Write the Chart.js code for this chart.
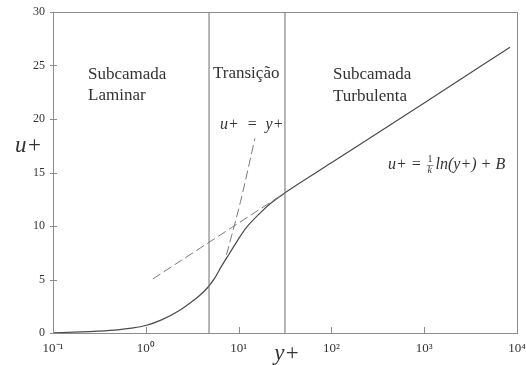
<!DOCTYPE html>
<html>
<head>
<meta charset="utf-8">
<script src="https://cdn.jsdelivr.net/npm/chart.js@4"></script>
<style>
  body { margin: 0; background: #fff; }
</style>
</head>
<body>
<canvas id="c" width="526" height="365"></canvas>
<script>
// axis ticks
const xTicks = [0.1, 1, 10, 100, 1000, 10000];
const xTickLabels = ['10⁻¹', '10⁰', '10¹', '10²', '10³', '10⁴'];
const yTicks = [0, 5, 10, 15, 20, 25, 30];

// velocity profile (solid)
const profileY = [0.1, 0.2, 0.3, 0.5, 0.7, 1, 1.5, 2.3, 3, 3.8, 4.7, 5.5, 6.5, 8, 10, 12, 17, 22, 31.6, 100, 1000, 8400];
const profileU = [0.02, 0.1, 0.17, 0.3, 0.45, 0.7, 1.25, 2.1, 2.8, 3.5, 4.3, 5.1, 6.2, 7.45, 8.8, 9.8, 11.2, 12.1, 13.1, 15.9, 21.5, 26.7];

// u+ = y+ (dashed)
const linearY = [7.4, 10.5, 15];
const linearU = [7.3, 12.3, 18.2];

// log law (dashed)
const logY = [1.19, 31.6];
const logU = [5.05, 13.1];

// region boundaries
const boundaryY = [4.8, 31.6];

const pts = (xs, ys) => xs.map((x, i) => ({ x: x, y: ys[i] }));
const serif = '"Liberation Serif", "Times New Roman", serif';

const vlines = boundaryY.map(b => ({
  data: [{ x: b, y: 0 }, { x: b, y: 30 }],
  borderColor: '#6e6e6e',
  borderWidth: 1,
  pointRadius: 0,
}));

const extras = {
  id: 'extras',
  afterDraw(chart) {
    const { ctx, chartArea: a, scales: { x, y } } = chart;
    ctx.save();
    ctx.strokeStyle = '#8c8c8c';
    ctx.lineWidth = 1;
    ctx.strokeRect(Math.round(a.left) + 0.5, Math.round(a.top) + 0.5,
      Math.round(a.right - a.left), Math.round(a.bottom - a.top));

    // ticks
    ctx.beginPath();
    yTicks.forEach(v => {
      const py = Math.round(y.getPixelForValue(v)) + 0.5;
      ctx.moveTo(a.left - 3, py);
      ctx.lineTo(a.left + 4, py);
    });
    xTicks.slice(1, -1).forEach(v => {
      const px = Math.round(x.getPixelForValue(v)) + 0.5;
      ctx.moveTo(px, a.bottom);
      ctx.lineTo(px, a.bottom - 6);
    });
    ctx.stroke();

    ctx.fillStyle = '#333';
    ctx.textBaseline = 'middle';
    ctx.textAlign = 'left';
    ctx.font = '17px ' + serif;
    ctx.fillText('Subcamada', 88, 75);
    ctx.fillText('Laminar', 88, 96);
    ctx.fillText('Transição', 213, 74);
    ctx.fillText('Subcamada', 333, 75);
    ctx.fillText('Turbulenta', 333, 97);

    // axis titles
    ctx.font = 'italic 23px ' + serif;
    ctx.fillText('u+', 15, 146);
    ctx.textAlign = 'center';
    ctx.fillText('y+', 287, 354);

    // equations
    ctx.textAlign = 'left';
    ctx.font = 'italic 16px ' + serif;
    ctx.fillText('u+  =  y+', 220, 125);

    let px = 388;
    const cy = 165;
    ctx.fillText('u+ = ', px, cy);
    px += ctx.measureText('u+ = ').width + 1;
    ctx.font = '10px ' + serif;
    ctx.fillText('1', px + 1, cy - 6);
    ctx.font = 'italic 10px ' + serif;
    ctx.fillText('k', px + 1, cy + 5);
    ctx.beginPath();
    ctx.moveTo(px, cy + 0.5);
    ctx.lineTo(px + 7, cy + 0.5);
    ctx.stroke();
    px += 9;
    ctx.font = 'italic 16px ' + serif;
    ctx.fillText('ln(y+) + B', px, cy);
    ctx.restore();
  }
};

new Chart(document.getElementById('c'), {
  type: 'line',
  data: {
    datasets: [
      ...vlines,
      {
        data: pts(logY, logU),
        borderColor: '#7a7a7a',
        borderWidth: 1,
        borderDash: [9, 4],
        pointRadius: 0,
      },
      {
        data: pts(linearY, linearU),
        borderColor: '#7a7a7a',
        borderWidth: 1,
        borderDash: [9, 4],
        pointRadius: 0,
        cubicInterpolationMode: 'monotone',
      },
      {
        data: pts(profileY, profileU),
        borderColor: '#4a4a4a',
        borderWidth: 1.2,
        pointRadius: 0,
        cubicInterpolationMode: 'monotone',
      },
    ],
  },
  options: {
    responsive: false,
    animation: false,
    devicePixelRatio: 1,
    layout: { padding: { top: 12, right: 9, left: 0, bottom: 0 } },
    plugins: { legend: { display: false }, tooltip: { enabled: false } },
    scales: {
      x: {
        type: 'logarithmic',
        min: 0.1,
        max: 10000,
        grid: { display: false, drawTicks: false },
        border: { display: false },
        afterBuildTicks: s => { s.ticks = xTicks.map(v => ({ value: v })); },
        afterFit: s => { s.height = 32; s.paddingLeft = 0; s.paddingRight = 0; },
        ticks: {
          padding: 8,
          color: '#333',
          font: { family: serif, size: 13 },
          maxRotation: 0,
          callback: v => xTickLabels[xTicks.indexOf(v)] ?? '',
        },
      },
      y: {
        type: 'linear',
        min: 0,
        max: 30,
        grid: { display: false, drawTicks: false },
        border: { display: false },
        afterFit: s => { s.width = 53; s.paddingTop = 0; s.paddingBottom = 0; },
        ticks: {
          stepSize: 5,
          padding: 8,
          color: '#333',
          font: { family: serif, size: 12 },
        },
      },
    },
  },
  plugins: [extras],
});
</script>
</body>
</html>
